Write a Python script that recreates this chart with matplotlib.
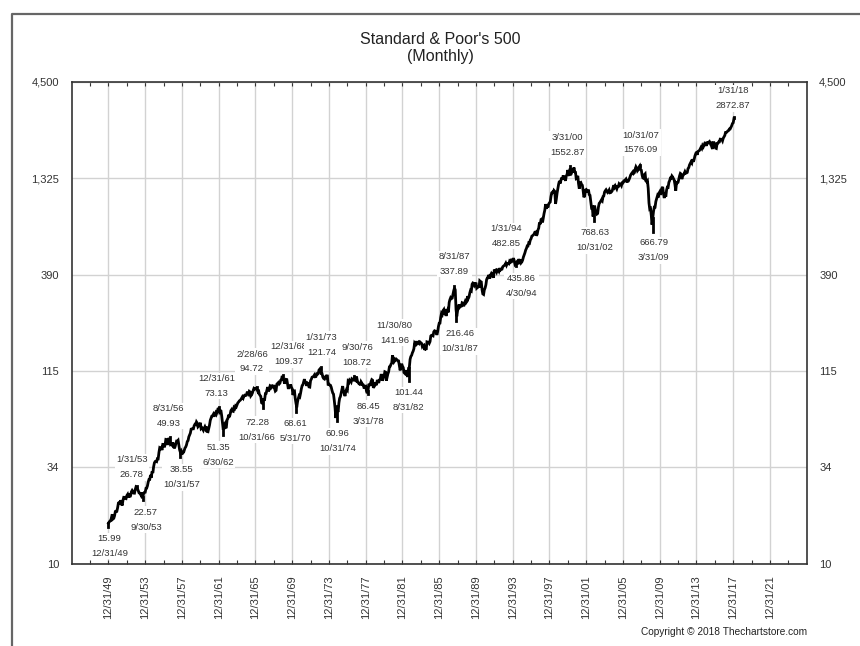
import numpy as np
import pandas as pd
import matplotlib
matplotlib.use("Agg")
import matplotlib.pyplot as plt
import matplotlib.dates as mdates
from matplotlib.lines import Line2D
from matplotlib.ticker import FixedLocator, NullLocator

plt.rcParams['font.family'] = ['Liberation Sans', 'DejaVu Sans']

# ---------------- data: S&P 500 monthly closes, Dec 1949 .. Jan 2018 -------------
close_1949 = [16.76]
close_1950s = [
    17.05, 17.22, 17.29, 17.96, 18.78, 17.69, 17.84, 18.42, 19.45, 19.53, 19.51, 20.41,
    21.66, 21.80, 21.40, 22.43, 21.52, 20.96, 22.40, 23.28, 23.26, 22.94, 22.88, 23.77,
    24.14, 23.26, 24.37, 23.32, 23.86, 24.96, 25.40, 25.03, 24.54, 24.52, 25.66, 26.57,
    26.38, 25.90, 25.29, 24.62, 24.54, 24.14, 24.75, 23.32, 23.35, 24.54, 24.76, 24.81,
    26.08, 26.15, 26.94, 28.26, 29.19, 29.21, 30.88, 29.83, 32.31, 31.68, 34.24, 35.98,
    36.63, 36.76, 36.58, 37.96, 37.91, 41.03, 43.52, 43.18, 43.67, 42.34, 45.51, 45.48,
    43.82, 45.34, 48.48, 48.38, 45.20, 46.97, 49.39, 47.51, 45.35, 45.58, 45.08, 46.67,
    44.72, 43.26, 44.11, 45.74, 47.43, 47.37, 47.91, 45.22, 42.42, 41.06, 41.72, 39.99,
    41.70, 40.84, 42.10, 43.44, 44.09, 45.24, 47.19, 47.75, 50.06, 51.33, 52.48, 55.21,
    55.42, 55.41, 55.44, 57.59, 58.68, 58.47, 60.51, 59.60, 56.88, 57.52, 58.28, 59.89,
]
close_1960s = [
    55.61, 56.12, 55.34, 54.37, 55.83, 56.92, 55.51, 56.96, 53.52, 53.39, 55.54, 58.11,
    61.78, 63.44, 65.06, 65.31, 66.56, 64.64, 66.76, 68.07, 66.73, 68.62, 71.32, 71.55,
    68.84, 69.96, 69.55, 65.24, 59.63, 54.75, 58.23, 59.12, 56.27, 56.52, 62.26, 63.10,
    66.20, 64.29, 66.57, 69.80, 70.80, 69.37, 69.13, 72.50, 71.70, 74.01, 73.23, 75.02,
    77.04, 77.80, 78.98, 79.46, 80.37, 81.69, 83.18, 81.83, 84.18, 84.86, 84.42, 84.75,
    87.56, 87.43, 86.16, 89.11, 88.42, 84.12, 85.25, 87.17, 89.96, 92.42, 91.61, 92.43,
    92.88, 91.22, 89.23, 91.06, 86.13, 84.74, 83.60, 77.10, 76.56, 80.20, 80.45, 80.33,
    86.61, 86.78, 90.20, 94.01, 89.08, 90.64, 94.75, 93.64, 96.71, 93.90, 94.00, 96.47,
    92.24, 89.36, 90.20, 97.59, 98.68, 99.58, 97.74, 98.86, 102.67, 103.41, 108.37, 103.86,
    103.01, 98.13, 101.51, 103.69, 103.46, 97.71, 91.83, 95.51, 93.12, 97.24, 93.81, 92.06,
]
close_1970s = [
    85.02, 89.50, 89.63, 81.52, 76.55, 72.72, 78.05, 81.52, 84.21, 83.25, 87.20, 92.15,
    95.88, 96.75, 100.31, 103.95, 99.63, 98.70, 95.58, 99.03, 98.34, 94.23, 93.99, 102.09,
    103.94, 106.57, 107.20, 107.67, 109.53, 107.14, 107.39, 111.09, 110.55, 111.58, 116.67, 118.05,
    116.03, 111.68, 111.52, 106.97, 104.95, 104.26, 108.22, 104.25, 108.43, 108.29, 95.96, 97.55,
    96.57, 96.22, 93.98, 90.31, 87.28, 86.00, 79.31, 72.15, 63.54, 73.90, 69.97, 68.56,
    76.98, 81.59, 83.36, 87.30, 91.15, 95.19, 88.75, 86.88, 83.87, 89.04, 91.24, 90.19,
    100.86, 99.71, 102.77, 101.64, 100.18, 104.28, 103.44, 102.91, 105.24, 102.90, 102.10, 107.46,
    102.03, 99.82, 98.42, 98.44, 96.12, 100.48, 98.85, 96.77, 96.53, 92.34, 94.83, 95.10,
    89.25, 87.04, 89.21, 96.83, 97.24, 95.53, 100.68, 103.29, 102.54, 93.15, 94.70, 96.11,
    99.93, 96.28, 101.59, 101.76, 99.08, 102.91, 103.81, 109.32, 109.32, 101.82, 106.16, 107.94,
]
close_1980s = [
    114.16, 113.66, 102.09, 106.29, 111.24, 114.24, 121.67, 122.38, 125.46, 127.47, 140.52, 135.76,
    129.55, 131.27, 136.00, 132.81, 132.59, 131.21, 130.92, 122.79, 116.18, 121.89, 126.35, 122.55,
    120.40, 113.11, 111.96, 116.44, 111.88, 109.61, 107.09, 119.51, 120.42, 133.71, 138.54, 140.64,
    145.30, 148.06, 152.96, 164.42, 162.39, 168.11, 162.56, 164.40, 166.07, 163.55, 166.40, 164.93,
    163.41, 157.06, 159.18, 160.05, 150.55, 153.18, 150.66, 166.68, 166.10, 166.09, 163.58, 167.24,
    179.63, 181.18, 180.66, 179.83, 189.55, 191.85, 190.92, 188.63, 182.08, 189.82, 202.17, 211.28,
    211.78, 226.92, 238.90, 235.52, 247.35, 250.84, 236.12, 252.93, 231.32, 243.98, 249.22, 242.17,
    274.08, 284.20, 291.70, 288.36, 290.10, 304.00, 318.66, 329.80, 321.83, 251.79, 230.30, 247.08,
    257.07, 267.82, 258.89, 261.33, 262.16, 273.50, 272.02, 261.52, 271.91, 278.97, 273.70, 277.72,
    297.47, 288.86, 294.87, 309.64, 320.52, 317.98, 346.08, 351.45, 349.15, 340.36, 345.99, 353.40,
]
close_1990s = [
    329.08, 331.89, 339.94, 330.80, 361.23, 358.02, 356.15, 322.56, 306.05, 304.00, 322.22, 330.22,
    343.93, 367.07, 375.22, 375.35, 389.83, 371.16, 387.81, 395.43, 387.86, 392.46, 375.22, 417.09,
    408.79, 412.70, 403.69, 414.95, 415.35, 408.14, 424.21, 414.03, 417.80, 418.68, 431.35, 435.71,
    438.78, 443.38, 451.67, 440.19, 450.19, 450.53, 448.13, 463.56, 458.93, 467.83, 461.79, 466.45,
    481.61, 467.14, 445.77, 450.91, 456.50, 444.27, 458.26, 475.49, 462.69, 472.35, 453.69, 459.27,
    470.42, 487.39, 500.71, 514.71, 533.40, 544.75, 562.06, 561.88, 584.41, 581.50, 605.37, 615.93,
    636.02, 640.43, 645.50, 654.17, 669.12, 670.63, 639.95, 651.99, 687.31, 705.27, 757.02, 740.74,
    786.16, 790.82, 757.12, 801.34, 848.28, 885.14, 954.29, 899.47, 947.28, 914.62, 955.40, 970.43,
    980.28, 1049.34, 1101.75, 1111.75, 1090.82, 1133.84, 1120.67, 957.28, 1017.01, 1098.67, 1163.63, 1229.23,
    1279.64, 1238.33, 1286.37, 1335.18, 1301.84, 1372.71, 1328.72, 1320.41, 1282.71, 1362.93, 1388.91, 1469.25,
]
close_2000s = [
    1394.46, 1366.42, 1498.58, 1452.43, 1420.60, 1454.60, 1430.83, 1517.68, 1436.51, 1429.40, 1314.95, 1320.28,
    1366.01, 1239.94, 1160.33, 1249.46, 1255.82, 1224.42, 1211.23, 1133.58, 1040.94, 1059.78, 1139.45, 1148.08,
    1130.20, 1106.73, 1147.39, 1076.92, 1067.14, 989.82, 911.62, 916.07, 815.28, 885.76, 936.31, 879.82,
    855.70, 841.15, 848.18, 916.92, 963.59, 974.50, 990.31, 1008.01, 995.97, 1050.71, 1058.20, 1111.92,
    1131.13, 1144.94, 1126.21, 1107.30, 1120.68, 1140.84, 1101.72, 1104.24, 1114.58, 1130.20, 1173.82, 1211.92,
    1181.27, 1203.60, 1180.59, 1156.85, 1191.50, 1191.33, 1234.18, 1220.33, 1228.81, 1207.01, 1249.48, 1248.29,
    1280.08, 1280.66, 1294.83, 1310.61, 1270.09, 1270.20, 1276.66, 1303.82, 1335.85, 1377.94, 1400.63, 1418.30,
    1438.24, 1406.82, 1420.86, 1482.37, 1530.62, 1503.35, 1455.27, 1473.99, 1526.75, 1549.38, 1481.14, 1468.36,
    1378.55, 1330.63, 1322.70, 1385.59, 1400.38, 1280.00, 1267.38, 1282.83, 1166.36, 968.75, 896.24, 903.25,
    825.88, 735.09, 797.87, 872.81, 919.14, 919.32, 987.48, 1020.62, 1057.08, 1036.19, 1095.63, 1115.10,
]
close_2010s = [
    1073.87, 1104.49, 1169.43, 1186.69, 1089.41, 1030.71, 1101.60, 1049.33, 1141.20, 1183.26, 1180.55, 1257.64,
    1286.12, 1327.22, 1325.83, 1363.61, 1345.20, 1320.64, 1292.28, 1218.89, 1131.42, 1253.30, 1246.96, 1257.60,
    1312.41, 1365.68, 1408.47, 1397.91, 1310.33, 1362.16, 1379.32, 1406.58, 1440.67, 1412.16, 1416.18, 1426.19,
    1498.11, 1514.68, 1569.19, 1597.57, 1630.74, 1606.28, 1685.73, 1632.97, 1681.55, 1756.54, 1805.81, 1848.36,
    1782.59, 1859.45, 1872.34, 1883.95, 1923.57, 1960.23, 1930.67, 2003.37, 1972.29, 2018.05, 2067.56, 2058.90,
    1994.99, 2104.50, 2067.89, 2085.51, 2107.39, 2063.11, 2103.84, 1972.18, 1920.03, 2079.36, 2080.41, 2043.94,
    1940.24, 1932.23, 2059.74, 2065.30, 2096.95, 2098.86, 2173.60, 2170.95, 2168.27, 2126.15, 2198.81, 2238.83,
    2278.87, 2363.64, 2362.72, 2384.20, 2411.80, 2423.41, 2470.30, 2471.65, 2519.36, 2575.26, 2647.58, 2673.61,
    2823.81,
]

# labelled extremes (date, value, kind)
ext_dates = ["12/31/49", "1/31/53", "9/30/53", "8/31/56", "10/31/57", "12/31/61",
             "6/30/62", "2/28/66", "10/31/66", "12/31/68", "5/31/70", "1/31/73",
             "10/31/74", "9/30/76", "3/31/78", "11/30/80", "8/31/82", "8/31/87",
             "10/31/87", "1/31/94", "4/30/94", "3/31/00", "10/31/02", "10/31/07",
             "3/31/09", "1/31/18"]
ext_values = [15.99, 26.78, 22.57, 49.93, 38.55, 73.13, 51.35, 94.72, 72.28, 109.37,
              68.61, 121.74, 60.96, 108.72, 86.45, 141.96, 101.44, 337.89, 216.46,
              482.85, 435.86, 1552.87, 768.63, 1576.09, 666.79, 2872.87]
ext_is_peak = [False, True, False, True, False, True, False, True, False, True,
               False, True, False, True, False, True, False, True, False, True,
               False, True, False, True, False, True]

y_ticks = [10, 34, 115, 390, 1325, 4500]
y_tick_labels = ["10", "34", "115", "390", "1,325", "4,500"]

# label placement (pixel offsets of label centre from the labelled point)
label_offsets_px = [(1, 19), (-5, -19), (3, 20), (-1, -21), (1, 20), (-2, -21),
                    (-5, 20), (-5, -25), (-6, 22), (6, -21), (-1, 19), (1, -22),
                    (1, 20), (3, -21), (0, 20), (2, -22), (0, 19), (0, -22),
                    (4, 20), (-7, -22), (6, 20), (-3, -21), (1, 19), (1, -22),
                    (1, 18), (-1, -19)]

# ---------------- figure -------------------------------------------------------------
closes = close_1949 + close_1950s + close_1960s + close_1970s + close_1980s + close_1990s + close_2000s + close_2010s
dates = pd.date_range("1949-12-31", periods=len(closes), freq=pd.offsets.MonthEnd())

W, H = 860, 646
fig = plt.figure(figsize=(W / 100, H / 100), dpi=100)
fig.patch.set_facecolor("white")
ax = fig.add_axes([71.7 / W, 1 - 564 / H, (806.7 - 71.7) / W, (564 - 81.7) / H])

ax.set_yscale("log")
ax.set_ylim(10, 4500)
ax.set_xlim(pd.Timestamp("1945-12-31"), pd.Timestamp("2025-12-31"))

# gridlines and ticks
major_x = [pd.Timestamp(f"{y}-12-31") for y in range(1949, 2022, 4)]
minor_x = [pd.Timestamp(f"{y}-12-31") for y in range(1947, 2024, 4)]
ax.xaxis.set_major_locator(FixedLocator(mdates.date2num(major_x)))
ax.xaxis.set_minor_locator(FixedLocator(mdates.date2num(minor_x)))
ax.xaxis.set_major_formatter(mdates.DateFormatter("%m/%d/%y"))
ax.yaxis.set_major_locator(FixedLocator(y_ticks))
ax.yaxis.set_minor_locator(NullLocator())
ax.set_yticklabels(y_tick_labels)

ax.grid(True, which="major", color="#d2d2d2", linewidth=1.0, zorder=0)
ax.tick_params(axis="x", which="both", direction="in", top=True, bottom=True,
               length=3, width=0.8, color="#333333")
ax.tick_params(axis="x", which="major", labelsize=8, pad=8, labelrotation=90,
               labelcolor="#333333")
ax.tick_params(axis="y", which="both", length=0, labelsize=8, pad=9,
               labelleft=True, labelright=True, labelcolor="#333333")
for s in ax.spines.values():
    s.set_linewidth(1.2)
    s.set_color("#333333")

# price line
ax.plot(dates, closes, color="black", linewidth=2.0, zorder=3, solid_joinstyle="miter")

# extremes: bar from the month close to the labelled extreme, plus labels
date_lookup = pd.Series(closes, index=dates)
for d, v, pk, (dx, dy) in zip(ext_dates, ext_values, ext_is_peak, label_offsets_px):
    t = pd.to_datetime(d, format="%m/%d/%y")
    if t.year > 2030:
        t = t.replace(year=t.year - 100)
    c = date_lookup.get(t, v)
    ax.plot([t, t], [c, v], color="black", linewidth=2.0, zorder=3)
    vtxt = f"{v:.2f}"
    txt = f"{d}\n{vtxt}" if pk else f"{vtxt}\n{d}"
    ax.annotate(txt, xy=(t, v), xycoords="data",
                xytext=(dx * 0.72, -dy * 0.72), textcoords="offset points",
                ha="center", va="center", fontsize=6.8, color="#333333",
                linespacing=1.85, zorder=2.5,
                bbox=dict(facecolor="white", edgecolor="none", pad=1.0))

# titles
fig.text(440 / W, 1 - 40 / H, "Standard & Poor's 500", ha="center", va="center",
         fontsize=11.5, color="#222222")
fig.text(440 / W, 1 - 57 / H, "(Monthly)", ha="center", va="center",
         fontsize=11.5, color="#222222")
fig.text(807 / W, 1 - 632 / H, "Copyright \u00a9 2018 Thechartstore.com", ha="right",
         va="center", fontsize=7.3, color="#222222")

# outer frame (left and top edges visible)
fig.add_artist(Line2D([11.5 / W, 11.5 / W, 1.0], [0.0, 1 - 13.5 / H, 1 - 13.5 / H],
                      transform=fig.transFigure, color="#666666", linewidth=1.6))

fig.savefig("out.png", dpi=100)
